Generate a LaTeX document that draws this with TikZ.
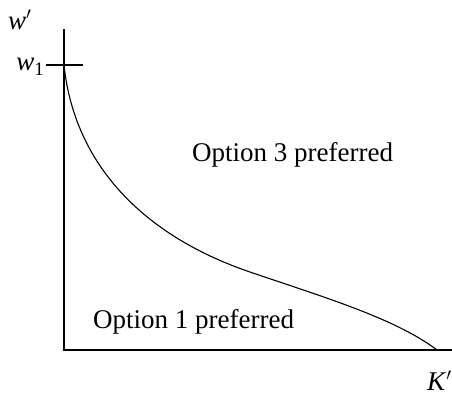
\documentclass[tikz,border=0pt]{standalone}
\usepackage{fontspec}
\setmainfont{Liberation Serif}
\begin{document}
\begin{tikzpicture}[x=1pt,y=-1pt,
  axis/.style={line width=1.2pt},
  curve/.style={line width=1.1pt},
  lbl/.style={inner sep=0pt,font=\fontsize{27}{32}\selectfont},
]
\useasboundingbox (0,0) rectangle (452,392);
\coordinate (top) at (64,29);
\coordinate (origin) at (64,350);
\coordinate (right) at (452,350);
\coordinate (tickL) at (46,65);
\coordinate (tickR) at (83,65);
\coordinate (w1pt) at (64,65);
\coordinate (mid) at (250,272);
\coordinate (kend) at (437,350);
\draw[axis] (top) -- (origin) -- (right);
\draw[axis] (tickL) -- (tickR);
\draw[curve] (w1pt) .. controls (75,170) and (150,238) .. (mid)
  .. controls (320,296) and (395,318) .. (kend);
\node[lbl,anchor=base west] (wp) at (8,29) {\textit{w}$'$};
\node[lbl,anchor=base east] (w1) at (44,70) {\textit{w}\raisebox{-0.22em}{\fontsize{19}{20}\selectfont 1}};
\node[lbl,anchor=base west] (opt3) at (192,161) {Option 3 preferred};
\node[lbl,anchor=base west] (opt1) at (93,328) {Option 1 preferred};
\node[lbl,anchor=base west] (kp) at (427,390) {\textit{K}$'$};
\end{tikzpicture}
\end{document}
